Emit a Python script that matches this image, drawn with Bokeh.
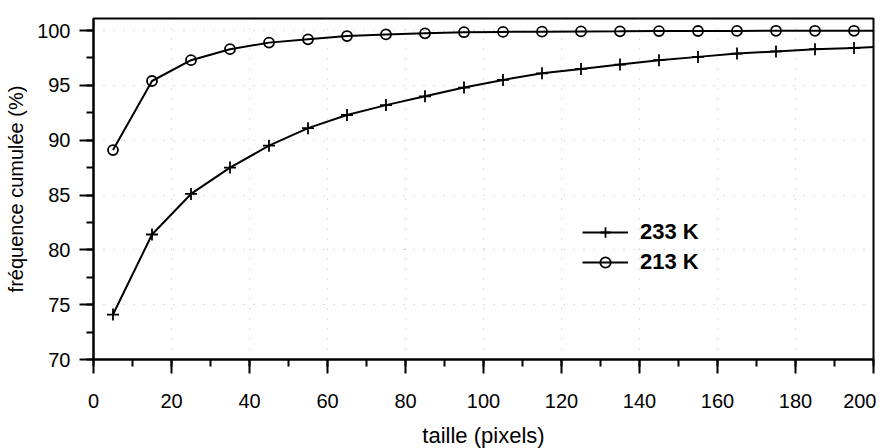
from bokeh.plotting import figure
from bokeh.models import Range1d, Legend, LegendItem, FixedTicker
from bokeh.embed import file_html
from bokeh.resources import INLINE

x_vals = [5, 15, 25, 35, 45, 55, 65, 75, 85, 95, 105, 115, 125, 135, 145, 155, 165, 175, 185, 195, 205]
k233 = [74.1, 81.4, 85.1, 87.5, 89.5, 91.1, 92.3, 93.2, 94.0, 94.8, 95.5, 96.1, 96.5, 96.9, 97.3, 97.6, 97.9, 98.1, 98.3, 98.4, 98.6]
x213 = [5, 15, 25, 35, 45, 55, 65, 75, 85, 95, 105, 115, 125, 135, 145, 155, 165, 175, 185, 195, 205]
k213 = [89.1, 95.4, 97.3, 98.3, 98.9, 99.2, 99.5, 99.65, 99.75, 99.85, 99.88, 99.9, 99.92, 99.93, 99.95, 99.96, 99.97, 99.98, 99.98, 99.98, 99.99]
x_ticks = [0, 20, 40, 60, 80, 100, 120, 140, 160, 180, 200]
x_minor = [0, 10, 20, 30, 40, 50, 60, 70, 80, 90, 100, 110, 120, 130, 140, 150, 160, 170, 180, 190, 200]
y_ticks = [70, 75, 80, 85, 90, 95, 100]
y_minor = [70, 72.5, 75, 77.5, 80, 82.5, 85, 87.5, 90, 92.5, 95, 97.5, 100]

FONT = "Liberation Sans"

p = figure(frame_width=780, frame_height=341, output_backend="svg", toolbar_location=None,
           x_range=Range1d(0, 200), y_range=Range1d(70, 101.1),
           min_border_left=93, min_border_top=18, min_border_right=3, min_border_bottom=90)
p.background_fill_color = "white"
p.border_fill_color = "white"
p.outline_line_color = "black"
p.outline_line_width = 2

p.xaxis.ticker = FixedTicker(ticks=x_ticks, minor_ticks=x_minor)
p.yaxis.ticker = FixedTicker(ticks=y_ticks, minor_ticks=y_minor)
p.axis.axis_line_color = "black"
p.axis.axis_line_width = 2
p.axis.major_tick_line_color = "black"
p.axis.major_tick_line_width = 2
p.axis.minor_tick_line_color = "black"
p.axis.minor_tick_line_width = 2
p.axis.major_tick_out = 14
p.axis.major_tick_in = 0
p.axis.minor_tick_out = 7
p.axis.minor_tick_in = 0
p.axis.major_label_text_font = FONT
p.axis.major_label_text_font_size = "20px"
p.axis.major_label_text_color = "black"
p.axis.axis_label_text_font = FONT
p.axis.axis_label_text_font_style = "normal"
p.axis.axis_label_text_color = "black"
p.xaxis.axis_label_text_font_size = "22px"
p.yaxis.axis_label_text_font_size = "20px"
p.xaxis.axis_label = "taille (pixels)"
p.yaxis.axis_label = "fréquence cumulée (%)"
p.xaxis.major_label_standoff = 20
p.yaxis.major_label_standoff = 9
p.xaxis.axis_label_standoff = 12
p.yaxis.axis_label_standoff = 7

p.xgrid.grid_line_color = "#888888"
p.ygrid.grid_line_color = "#888888"
p.xgrid.grid_line_dash = "1 9"
p.ygrid.grid_line_dash = "1 9"
p.xgrid.grid_line_alpha = 0.6
p.ygrid.grid_line_alpha = 0.6

l1 = p.line(x_vals, k233, line_color="black", line_width=2)
s1 = p.scatter(x_vals, k233, marker="cross", size=12, line_color="black", line_width=1.8)
l2 = p.line(x213, k213, line_color="black", line_width=2)
s2 = p.scatter(x213, k213, marker="circle", size=10, line_color="black", fill_color="white",
               fill_alpha=0, line_width=1.8)

legend = Legend(items=[LegendItem(label="233 K", renderers=[l1, s1]),
                       LegendItem(label="213 K", renderers=[l2, s2])],
                location=(489, 84))
legend.label_text_font = FONT
legend.label_text_font_size = "22px"
legend.label_text_font_style = "bold"
legend.label_text_color = "black"
legend.border_line_color = None
legend.background_fill_alpha = 0
legend.glyph_width = 46
legend.glyph_height = 26
legend.label_height = 26
legend.spacing = 4
legend.label_standoff = 12
p.add_layout(legend, "center")

open("out.html", "w").write(file_html(p, INLINE))
